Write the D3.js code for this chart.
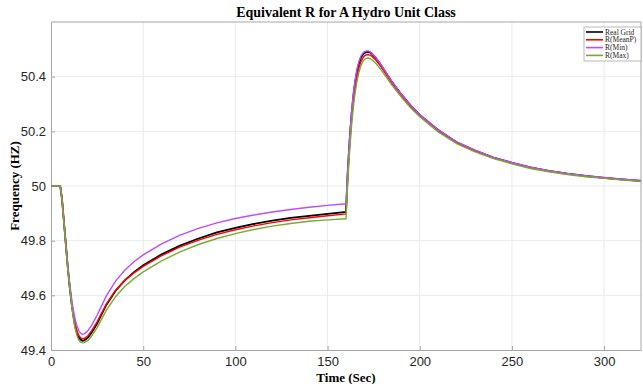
<!DOCTYPE html>
<html>
<head>
<meta charset="utf-8">
<script src="https://cdn.jsdelivr.net/npm/d3@7"></script>
<style>
  body { margin: 0; background: #fff; }
  svg { display: block; }
</style>
</head>
<body>
<svg id="chart" width="643" height="384"></svg>
<script>
// time axis (sec), shared by all series
const time = [0, 5, 6, 7, 8, 9, 10, 11, 12, 13, 14, 15, 16, 17, 18, 20, 22, 25, 30, 35, 40, 45, 50, 60, 70, 80, 90, 100, 110, 120, 130, 140, 150, 160,
  161, 162, 163, 164, 165, 166, 167, 168, 169, 170, 171, 172, 173, 174, 176, 178, 180, 185, 190, 195, 200, 210, 220, 230, 240, 250, 260, 270, 280, 290, 300, 310, 320]

const realGrid = [50, 50, 49.95, 49.87, 49.79, 49.71, 49.64, 49.58, 49.53, 49.49, 49.465, 49.447, 49.438, 49.434, 49.435, 49.445, 49.463, 49.497, 49.565, 49.617, 49.655, 49.685, 49.71, 49.75, 49.782, 49.808, 49.83, 49.847, 49.861, 49.873, 49.883, 49.891, 49.898, 49.905,
  50.06, 50.17, 50.26, 50.33, 50.382, 50.42, 50.448, 50.468, 50.48, 50.487, 50.49, 50.491, 50.489, 50.484, 50.47, 50.452, 50.432, 50.38, 50.335, 50.295, 50.26, 50.205, 50.16, 50.13, 50.104, 50.085, 50.068, 50.055, 50.045, 50.037, 50.03, 50.024, 50.019]

const rMeanP = [50, 50, 49.95, 49.87, 49.79, 49.71, 49.642, 49.583, 49.535, 49.496, 49.471, 49.454, 49.445, 49.441, 49.442, 49.452, 49.47, 49.503, 49.568, 49.618, 49.654, 49.682, 49.706, 49.745, 49.777, 49.802, 49.823, 49.84, 49.854, 49.866, 49.876, 49.884, 49.891, 49.898,
  50.04, 50.15, 50.24, 50.31, 50.362, 50.402, 50.432, 50.453, 50.467, 50.476, 50.48, 50.481, 50.479, 50.475, 50.462, 50.445, 50.426, 50.376, 50.332, 50.292, 50.258, 50.203, 50.158, 50.128, 50.103, 50.084, 50.067, 50.054, 50.044, 50.036, 50.029, 50.023, 50.018]

const rMin = [50, 50, 49.95, 49.87, 49.79, 49.715, 49.65, 49.595, 49.55, 49.515, 49.49, 49.472, 49.462, 49.458, 49.459, 49.47, 49.49, 49.527, 49.598, 49.652, 49.692, 49.723, 49.748, 49.788, 49.82, 49.845, 49.865, 49.881, 49.894, 49.905, 49.914, 49.922, 49.929, 49.935,
  50.07, 50.18, 50.27, 50.34, 50.39, 50.43, 50.455, 50.474, 50.485, 50.491, 50.494, 50.494, 50.491, 50.486, 50.471, 50.453, 50.433, 50.381, 50.336, 50.296, 50.261, 50.206, 50.161, 50.131, 50.105, 50.086, 50.069, 50.056, 50.046, 50.038, 50.031, 50.025, 50.02]

const rMax = [50, 50, 49.95, 49.865, 49.785, 49.705, 49.635, 49.573, 49.522, 49.482, 49.455, 49.437, 49.429, 49.426, 49.427, 49.435, 49.451, 49.482, 49.545, 49.595, 49.632, 49.661, 49.686, 49.726, 49.759, 49.786, 49.808, 49.826, 49.841, 49.853, 49.863, 49.871, 49.876, 49.88,
  50.02, 50.13, 50.22, 50.29, 50.343, 50.385, 50.416, 50.439, 50.454, 50.463, 50.467, 50.468, 50.466, 50.462, 50.45, 50.434, 50.416, 50.368, 50.325, 50.286, 50.253, 50.198, 50.155, 50.125, 50.1, 50.081, 50.064, 50.052, 50.042, 50.034, 50.028, 50.022, 50.017]

const seriesNames = ['Real Grid', 'R(MeanP)', 'R(Min)', 'R(Max)']
const seriesColors = ['#000000', '#ff0000', '#b94dff', '#77ac30']
const seriesValues = [realGrid, rMeanP, rMin, rMax]

const xTicks = [0, 50, 100, 150, 200, 250, 300]
const yTicks = [49.4, 49.6, 49.8, 50, 50.2, 50.4]

const dims = { left: 51, right: 641, top: 22, bottom: 350 }

const svg = d3.select('#chart')

const x = d3.scaleLinear().domain([0, 320]).range([dims.left, dims.right])
const y = d3.scaleLinear().domain([49.4, 50.6]).range([dims.bottom, dims.top])

// grid
svg.append('g')
  .selectAll('line.vgrid')
  .data(xTicks.slice(1))
  .enter().append('line')
  .attr('x1', d => x(d)).attr('x2', d => x(d))
  .attr('y1', dims.top).attr('y2', dims.bottom)
  .attr('stroke', '#ebebeb').attr('stroke-width', 1)

svg.append('g')
  .selectAll('line.hgrid')
  .data(yTicks.slice(1))
  .enter().append('line')
  .attr('x1', dims.left).attr('x2', dims.right)
  .attr('y1', d => y(d)).attr('y2', d => y(d))
  .attr('stroke', '#ebebeb').attr('stroke-width', 1)

// axes
const xAxis = svg.append('g')
  .attr('transform', `translate(0, ${dims.bottom})`)
  .call(d3.axisBottom(x).tickValues(xTicks).tickSizeInner(-4).tickSizeOuter(0).tickPadding(7).tickFormat(d3.format('d')))
const yAxis = svg.append('g')
  .attr('transform', `translate(${dims.left}, 0)`)
  .call(d3.axisLeft(y).tickValues(yTicks).tickSizeInner(-4).tickSizeOuter(0).tickPadding(5).tickFormat(d => +d.toFixed(1)))

;[xAxis, yAxis].forEach(ax => {
  ax.select('.domain').attr('stroke', '#a6a6a6')
  ax.selectAll('.tick line').attr('stroke', '#a6a6a6')
  ax.selectAll('.tick text')
    .attr('fill', '#262626')
    .style('font-family', '"Liberation Sans", Arial, sans-serif')
    .style('font-size', '13px')
})

// box top / right
svg.append('line')
  .attr('x1', dims.left).attr('x2', dims.right)
  .attr('y1', dims.top).attr('y2', dims.top)
  .attr('stroke', '#a6a6a6')
svg.append('line')
  .attr('x1', dims.right).attr('x2', dims.right)
  .attr('y1', dims.top).attr('y2', dims.bottom)
  .attr('stroke', '#a6a6a6')

// lines
const lineGen = d3.line()
  .x((d, i) => x(time[i]))
  .y(d => y(d))

const lineWidths = [1.8, 1.4, 1.4, 1.4]
seriesValues.forEach((vals, i) => {
  svg.append('path')
    .datum(vals)
    .attr('d', lineGen)
    .attr('fill', 'none')
    .attr('stroke', seriesColors[i])
    .attr('stroke-width', lineWidths[i])
})

// title + labels
svg.append('text')
  .attr('x', 346).attr('y', 17)
  .attr('text-anchor', 'middle')
  .style('font-family', '"Liberation Serif", "Times New Roman", serif')
  .style('font-weight', 'bold')
  .style('font-size', '14px')
  .text('Equivalent R for A Hydro Unit Class')

svg.append('text')
  .attr('x', 346).attr('y', 382)
  .attr('text-anchor', 'middle')
  .style('font-family', '"Liberation Serif", "Times New Roman", serif')
  .style('font-weight', 'bold')
  .style('font-size', '13px')
  .text('Time (Sec)')

svg.append('text')
  .attr('transform', 'translate(19, 186) rotate(-90)')
  .attr('text-anchor', 'middle')
  .style('font-family', '"Liberation Serif", "Times New Roman", serif')
  .style('font-weight', 'bold')
  .style('font-size', '13px')
  .text('Frequency (HZ)')

// legend
const legend = svg.append('g').attr('transform', 'translate(584, 27)')
legend.append('rect')
  .attr('x', 0).attr('y', 0)
  .attr('width', 57).attr('height', 34)
  .attr('fill', '#fff')
  .attr('stroke', '#a6a6a6')
  .attr('stroke-width', 0.8)

seriesNames.forEach((name, i) => {
  const ly = 5 + i * 7.8
  legend.append('line')
    .attr('x1', 2).attr('x2', 19)
    .attr('y1', ly).attr('y2', ly)
    .attr('stroke', seriesColors[i])
    .attr('stroke-width', 1.6)
  legend.append('text')
    .attr('x', 21).attr('y', ly + 2.5)
    .style('font-family', '"Liberation Serif", "Times New Roman", serif')
    .style('font-size', '7.5px')
    .attr('fill', '#262626')
    .text(name)
})
</script>
</body>
</html>
